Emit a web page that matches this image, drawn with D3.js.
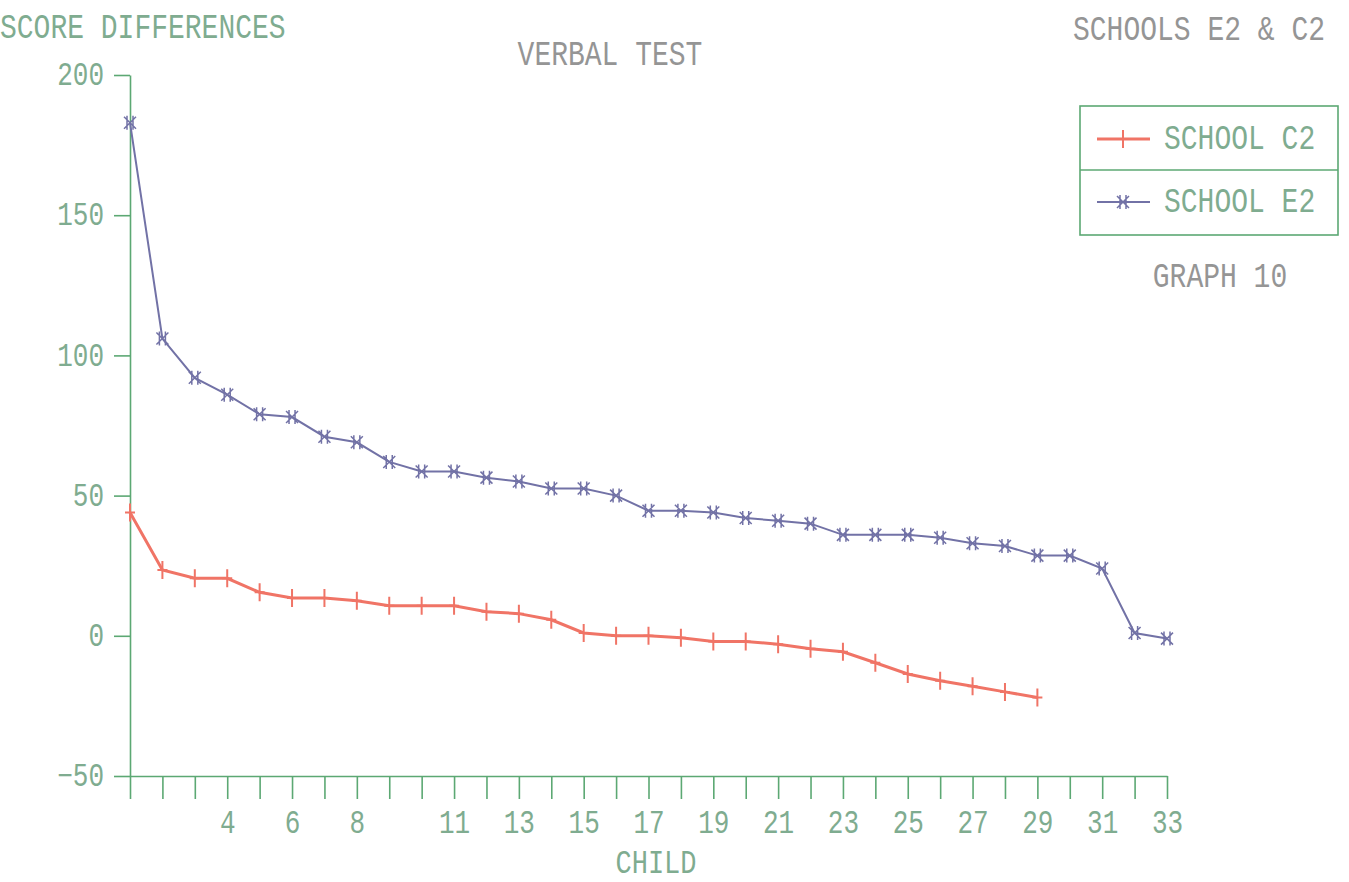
<!DOCTYPE html>
<html>
<head>
<meta charset="utf-8">
<script src="https://cdn.jsdelivr.net/npm/d3@7"></script>
<style>
  body { margin: 0; background: #fff; }
  svg text { font-family: "Liberation Mono", "DejaVu Sans Mono", monospace; }
</style>
</head>
<body>
<svg id="chart"></svg>
<script>
// children 1..33 along the x axis
var children = d3.range(1, 34);
var labelledChildren = [4, 6, 8, 11, 13, 15, 17, 19, 21, 23, 25, 27, 29, 31, 33];
var yTicks = [-50, 0, 50, 100, 150, 200];

// score differences
var schoolC2 = [44, 23.5, 20.5, 20.5, 15.5, 13.5, 13.5, 12.5, 10.7, 10.7, 10.7, 8.6, 7.9, 5.7, 1,
                0, 0, -0.7, -2, -2, -3, -4.6, -5.7, -9.6, -13.6, -16, -18, -20, -22];
var schoolE2 = [183, 106, 92, 86, 79, 78, 71, 69, 62, 58.6, 58.6, 56.4, 55, 52.5, 52.5, 50,
                44.6, 44.6, 44, 42, 41, 40, 36, 36, 36, 35, 33, 32, 28.6, 28.6, 24, 1, -1];

var seriesNames = ['SCHOOL C2', 'SCHOOL E2'];

var width = 1349,
    height = 882;

var green = '#5ca873',
    textGreen = '#7fac90',
    grey = '#959595',
    red = '#f07466',
    purple = '#7272a6';

var svg = d3.select('#chart')
  .attr('width', width)
  .attr('height', height);

var x = d3.scaleLinear().domain([1, 33]).range([130, 1167]);
var y = d3.scaleLinear().domain([-50, 200]).range([776, 75]);

// plotter lettering: tall narrow mono glyphs
function label(px, py, str, anchor, color, size) {
  svg.append('text')
    .attr('transform', 'translate(' + px + ',' + py + ') scale(1,1.25)')
    .attr('text-anchor', anchor)
    .attr('fill', color)
    .style('font-size', (size || 28) + 'px')
    .text(str);
}

// y axis
var yAxis = svg.append('g')
  .attr('transform', 'translate(' + x(1) + ',0)')
  .call(d3.axisLeft(y).tickValues(yTicks).tickSize(16).tickSizeOuter(0).tickPadding(10));

// x axis
var xAxis = svg.append('g')
  .attr('transform', 'translate(0,' + y(-50) + ')')
  .call(d3.axisBottom(x).tickValues(children).tickSize(23).tickSizeOuter(0).tickPadding(12)
    .tickFormat(function (d) { return labelledChildren.indexOf(d) > -1 ? d : ''; }));

[yAxis, xAxis].forEach(function (a) {
  a.selectAll('path, line').attr('stroke', green).attr('stroke-width', 1.6);
  a.selectAll('text')
    .attr('fill', textGreen)
    .style('font-size', '26px');
});
yAxis.selectAll('text').attr('transform', 'scale(1,1.25)').attr('dy', '0.3em');
xAxis.selectAll('text').attr('transform', 'translate(0,-10) scale(1,1.25)');

// titles
label(0, 38, 'SCORE DIFFERENCES', 'start', textGreen);
label(610, 65, 'VERBAL TEST', 'middle', grey);
label(1325, 40, 'SCHOOLS E2 & C2', 'end', grey);
label(656, 873, 'CHILD', 'middle', textGreen, 27);
label(1220, 287, 'GRAPH 10', 'middle', grey);

var line = d3.line()
  .x(function (d, i) { return x(i + 1); })
  .y(function (d) { return y(d); });

// E2 series, x-with-bar markers
svg.append('path')
  .datum(schoolE2)
  .attr('fill', 'none')
  .attr('stroke', purple)
  .attr('stroke-width', 2)
  .attr('d', line);

function starMarker(g, cx, cy, color) {
  var s = 6;
  g.append('path')
    .attr('d', 'M' + (cx - s) + ',' + (cy - s) + 'L' + (cx + s) + ',' + (cy + s) +
               'M' + (cx - s) + ',' + (cy + s) + 'L' + (cx + s) + ',' + (cy - s) +
               'M' + (cx - 3) + ',' + (cy - 7) + 'L' + (cx - 3) + ',' + (cy + 7) +
               'M' + (cx + 3) + ',' + (cy - 7) + 'L' + (cx + 3) + ',' + (cy + 7))
    .attr('stroke', color)
    .attr('stroke-width', 1.5)
    .attr('fill', 'none');
}

function plusMarker(g, cx, cy, color) {
  g.append('path')
    .attr('d', 'M' + cx + ',' + (cy - 9) + 'L' + cx + ',' + (cy + 9) +
               'M' + (cx - 5) + ',' + cy + 'L' + (cx + 5) + ',' + cy)
    .attr('stroke', color)
    .attr('stroke-width', 2)
    .attr('fill', 'none');
}

var e2Marks = svg.append('g');
schoolE2.forEach(function (d, i) { starMarker(e2Marks, x(i + 1), y(d), purple); });

// C2 series, plus markers
svg.append('path')
  .datum(schoolC2)
  .attr('fill', 'none')
  .attr('stroke', red)
  .attr('stroke-width', 3)
  .attr('d', line);

var c2Marks = svg.append('g');
schoolC2.forEach(function (d, i) { plusMarker(c2Marks, x(i + 1), y(d), red); });

// legend
var legend = svg.append('g');
legend.append('rect')
  .attr('x', 1080).attr('y', 106)
  .attr('width', 258).attr('height', 129)
  .attr('fill', 'none')
  .attr('stroke', green)
  .attr('stroke-width', 1.6);
legend.append('line')
  .attr('x1', 1080).attr('x2', 1338)
  .attr('y1', 170).attr('y2', 170)
  .attr('stroke', green)
  .attr('stroke-width', 1.6);

var legendRows = [
  { name: seriesNames[0], color: red, width: 3, marker: plusMarker, cy: 139 },
  { name: seriesNames[1], color: purple, width: 2, marker: starMarker, cy: 202 }
];
legendRows.forEach(function (r) {
  legend.append('line')
    .attr('x1', 1097).attr('x2', 1150)
    .attr('y1', r.cy).attr('y2', r.cy)
    .attr('stroke', r.color)
    .attr('stroke-width', r.width);
  r.marker(legend, 1123, r.cy, r.color);
  label(1164, r.cy + 10, r.name, 'start', textGreen);
});
</script>
</body>
</html>
